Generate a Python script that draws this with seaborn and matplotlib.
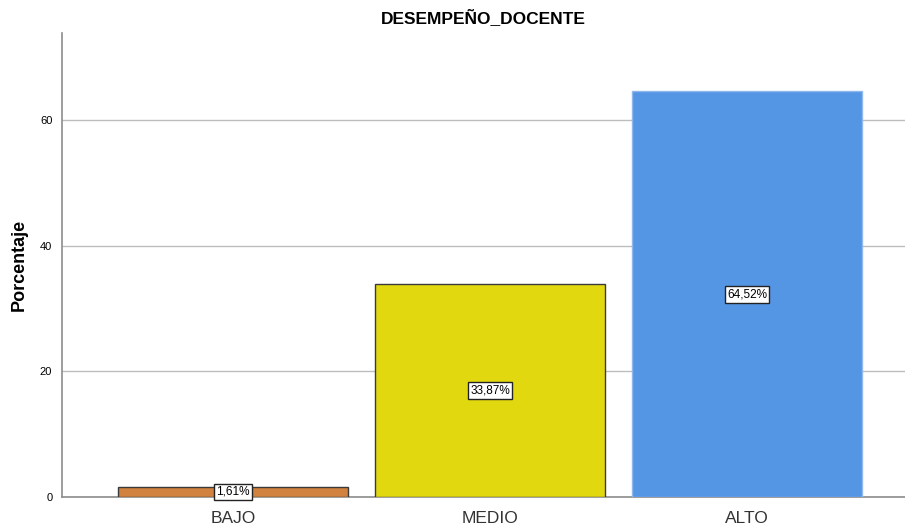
import matplotlib
matplotlib.use("Agg")
import matplotlib.pyplot as plt
import seaborn as sns
import pandas as pd

categories = ["BAJO", "MEDIO", "ALTO"]
percentages = [1.61, 33.87, 64.52]
bar_labels = ["1,61%", "33,87%", "64,52%"]
colors = ["#d0823e", "#e2d810", "#5596e4"]
edge_colors = ["#3a3a3a", "#3a3a3a", "#8fb8ee"]

sns.set_style("white")
plt.rcParams["font.family"] = ["Liberation Sans", "DejaVu Sans"]
plt.rcParams["text.color"] = "black"
plt.rcParams["axes.labelcolor"] = "black"

df = pd.DataFrame({"cat": categories, "pct": percentages})

fig = plt.figure(figsize=(9.05, 5.28), dpi=100)
ax = fig.add_axes([62 / 905, 1 - 497 / 528, (905 - 62) / 905, (497 - 33) / 528])

sns.barplot(data=df, x="cat", y="pct", hue="cat", palette=colors, legend=False,
            width=0.895, saturation=1, ax=ax, zorder=3)
for patch, ec in zip(ax.patches, edge_colors):
    patch.set_edgecolor(ec)
    patch.set_linewidth(1.0)

ax.set_xlim(-0.665, 2.615)
ax.set_ylim(0, 73.8)
ax.set_yticks([0, 20, 40, 60])
ax.yaxis.grid(True, color="#bdbdbd", linewidth=1.0, zorder=0)
ax.set_axisbelow(True)

for sp in ["top", "right"]:
    ax.spines[sp].set_visible(False)
for sp in ["left", "bottom"]:
    ax.spines[sp].set_color("#8c8c8c")
    ax.spines[sp].set_linewidth(1.2)

ax.tick_params(axis="y", labelsize=8, length=0, pad=7, labelcolor="black")
ax.tick_params(axis="x", labelsize=12.5, length=0, pad=10, labelcolor="#333333")
ax.set_xlabel("")
ax.set_ylabel("Porcentaje", fontsize=13, fontweight="bold", labelpad=9, color="black")
ax.set_title("DESEMPEÑO_DOCENTE", fontsize=12.5, fontweight="bold", pad=7, color="black")

for i, (v, lab) in enumerate(zip(percentages, bar_labels)):
    ax.text(i, v / 2, lab, ha="center", va="center", fontsize=8.5, zorder=5, color="black",
            bbox=dict(boxstyle="square,pad=0.2", facecolor="white", edgecolor="#222222", linewidth=1.0))

fig.savefig("out.png", dpi=100)
